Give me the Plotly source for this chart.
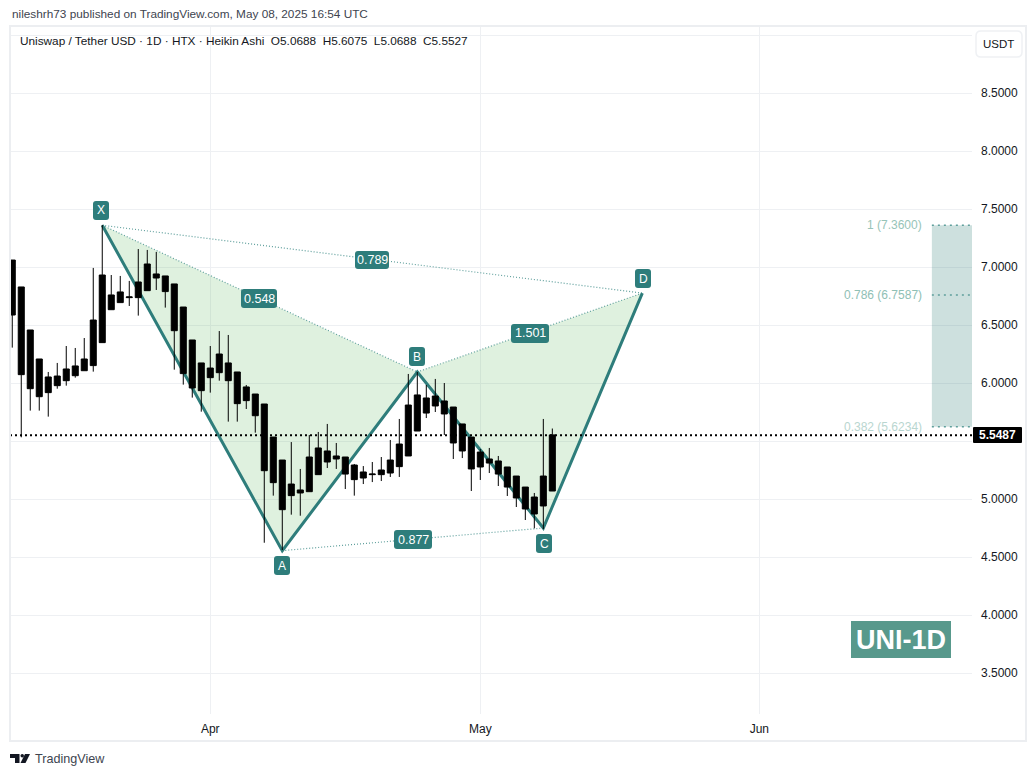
import plotly.graph_objects as go

FONT = "Liberation Sans"
TEAL = "#2e7d7b"
DOT_TEAL = "#5f9f9c"
GRID = "#eef0f3"
INK = "#131722"

W, H = 1036, 777
PLOT_L, PLOT_R, PLOT_T, PLOT_B = 10, 972, 27, 714

# daily Heikin Ashi candles
dates = [
    "2025-03-10", "2025-03-11", "2025-03-12", "2025-03-13", "2025-03-14", "2025-03-15", "2025-03-16",
    "2025-03-17", "2025-03-18", "2025-03-19", "2025-03-20", "2025-03-21", "2025-03-22", "2025-03-23",
    "2025-03-24", "2025-03-25", "2025-03-26", "2025-03-27", "2025-03-28", "2025-03-29", "2025-03-30",
    "2025-03-31", "2025-04-01", "2025-04-02", "2025-04-03", "2025-04-04", "2025-04-05", "2025-04-06",
    "2025-04-07", "2025-04-08", "2025-04-09", "2025-04-10", "2025-04-11", "2025-04-12", "2025-04-13",
    "2025-04-14", "2025-04-15", "2025-04-16", "2025-04-17", "2025-04-18", "2025-04-19", "2025-04-20",
    "2025-04-21", "2025-04-22", "2025-04-23", "2025-04-24", "2025-04-25", "2025-04-26", "2025-04-27",
    "2025-04-28", "2025-04-29", "2025-04-30", "2025-05-01", "2025-05-02", "2025-05-03", "2025-05-04",
    "2025-05-05", "2025-05-06", "2025-05-07", "2025-05-08", "2025-05-09",
]
highs = [
    7.060, 6.828, 6.457, 6.207, 6.095, 6.173, 6.319, 6.302, 6.388, 6.992, 7.362, 6.931, 6.923, 6.880,
    7.155, 7.147, 7.130, 6.923, 6.854, 6.655, 6.371, 6.173, 6.319, 6.448, 6.414, 6.095, 5.983, 5.905,
    5.819, 5.534, 5.336, 5.491, 5.259, 5.552, 5.578, 5.647, 5.483, 5.362, 5.302, 5.284, 5.319, 5.362,
    5.509, 5.690, 6.078, 6.095, 5.983, 6.035, 6.000, 5.793, 5.647, 5.534, 5.431, 5.440, 5.371, 5.276,
    5.198, 5.103, 5.052, 5.690, 5.6075,
]
body_tops = [
    7.060, 6.828, 6.457, 6.207, 6.052, 6.060, 6.121, 6.147, 6.207, 6.543, 6.931, 6.759, 6.785, 6.742,
    6.871, 7.026, 6.940, 6.923, 6.854, 6.655, 6.371, 6.173, 6.129, 6.250, 6.173, 6.095, 5.966, 5.905,
    5.819, 5.534, 5.336, 5.129, 5.078, 5.362, 5.440, 5.414, 5.371, 5.362, 5.293, 5.233, 5.215, 5.250,
    5.336, 5.474, 5.810, 5.897, 5.871, 5.888, 5.845, 5.793, 5.647, 5.534, 5.405, 5.345, 5.328, 5.276,
    5.198, 5.103, 5.017, 5.198, 5.5527,
]
body_bottoms = [
    6.586, 6.072, 5.951, 5.882, 5.917, 5.977, 6.020, 6.063, 6.106, 6.150, 6.348, 6.632, 6.693, 6.736,
    6.736, 6.796, 6.905, 6.788, 6.451, 6.081, 5.957, 5.934, 6.046, 6.089, 6.020, 5.822, 5.848, 5.718,
    5.244, 5.141, 4.908, 5.029, 5.052, 5.063, 5.210, 5.319, 5.345, 5.215, 5.167, 5.181, 5.210, 5.210,
    5.224, 5.279, 5.371, 5.586, 5.741, 5.802, 5.733, 5.483, 5.414, 5.259, 5.276, 5.310, 5.215, 5.103,
    5.009, 4.914, 4.871, 4.940, 5.0688,
]
lows = [
    6.305, 5.532, 5.762, 5.762, 5.710, 5.951, 5.977, 6.046, 6.106, 6.098, 6.348, 6.632, 6.693, 6.664,
    6.581, 6.796, 6.802, 6.650, 6.115, 5.986, 5.874, 5.753, 5.917, 6.020, 5.667, 5.667, 5.776, 5.572,
    4.623, 5.029, 4.560, 4.865, 4.856, 5.063, 5.210, 5.267, 5.259, 5.086, 5.029, 5.129, 5.146, 5.155,
    5.190, 5.190, 5.371, 5.586, 5.698, 5.750, 5.552, 5.345, 5.353, 5.069, 5.164, 5.224, 5.112, 5.026,
    4.931, 4.819, 4.747, 4.741, 5.0688,
]

# harmonic pattern pivots
pivot_names = ["X", "A", "B", "C", "D"]
pivot_dates = ["2025-03-20", "2025-04-09", "2025-04-24", "2025-05-08", "2025-05-19"]
pivot_prices = [7.36, 4.555, 6.095, 4.75, 6.775]

# ratio labels, placed by the picture
ratio_texts = ["0.789", "0.548", "1.501", "0.877"]
ratio_boxes = [(355, 389, 251, 269), (241, 277, 289, 308), (511, 549, 324, 343), (394, 432, 530, 549)]

# fib zone
fib_labels = ["1 (7.3600)", "0.786 (6.7587)", "0.382 (5.6234)"]
fib_levels = [7.36, 6.7587, 5.6234]
fib_colors = ["#97c4b8", "#8fc0b5", "#b9d6d0"]
fib_x = ["2025-06-20 04:00", "2025-06-24 15:00"]

last_price = 5.5487
x_range = ["2025-03-09 18:00", "2025-06-24 15:00"]
y_range = [3.1466, 9.069]

y_ticks = [3.5, 4.0, 4.5, 5.0, 5.5, 6.0, 6.5, 7.0, 7.5, 8.0, 8.5, 9.0]
y_labels = ["3.5000", "4.0000", "4.5000", "5.0000", "", "6.0000", "6.5000", "7.0000", "7.5000", "8.0000", "8.5000", ""]
x_ticks = ["2025-04-01", "2025-05-01", "2025-06-01"]
x_labels = ["Apr", "May", "Jun"]


def px(x):
    return (x - PLOT_L) / (PLOT_R - PLOT_L)


def py(y):
    return (PLOT_B - y) / (PLOT_B - PLOT_T)


def rounded_path(x0, x1, y0, y1, r=3):
    pts = [
        ("M", x0 + r, y0), ("L", x1 - r, y0), ("Q", x1, y0, x1, y0 + r), ("L", x1, y1 - r),
        ("Q", x1, y1, x1 - r, y1), ("L", x0 + r, y1), ("Q", x0, y1, x0, y1 - r), ("L", x0, y0 + r),
        ("Q", x0, y0, x0 + r, y0),
    ]
    out = []
    for p in pts:
        coords = p[1:]
        pairs = [f"{px(coords[i]):.5f},{py(coords[i + 1]):.5f}" for i in range(0, len(coords), 2)]
        out.append(p[0] + " ".join(pairs))
    return " ".join(out) + " Z"


def poly_path(points):
    s = "M" + " L".join(f"{px(x):.5f},{py(y):.5f}" for x, y in points)
    return s + " Z"


def paper_shape(path, fill, line_color=None, line_width=0):
    return dict(
        type="path", path=path, xref="paper", yref="paper", fillcolor=fill, layer="above",
        line=dict(color=line_color or fill, width=line_width),
    )


def label(x, y, text, color="white", size=12, anchor="center", weight=None):
    font = dict(family=FONT, size=size, color=color)
    if weight:
        font["weight"] = weight
    return dict(
        x=px(x), y=py(y), xref="paper", yref="paper", text=text, showarrow=False,
        xanchor=anchor, yanchor="middle", font=font,
    )


fig = go.Figure()

# fills sit on the lower axes so that the candles draw over them
fig.add_trace(go.Scatter(
    x=[fib_x[0], fib_x[1], fib_x[1], fib_x[0]],
    y=[fib_levels[2], fib_levels[2], fib_levels[0], fib_levels[0]],
    fill="toself", fillcolor="rgba(46,125,116,0.24)", mode="none", hoverinfo="skip",
))
for idx in ([0, 1, 2], [2, 3, 4]):
    fig.add_trace(go.Scatter(
        x=[pivot_dates[i] for i in idx], y=[pivot_prices[i] for i in idx],
        fill="toself", fillcolor="rgba(76,175,80,0.18)", mode="none", hoverinfo="skip",
    ))
for a, b in ((0, 2), (0, 4), (1, 3), (2, 4)):
    fig.add_trace(go.Scatter(
        x=[pivot_dates[a], pivot_dates[b]], y=[pivot_prices[a], pivot_prices[b]], mode="lines",
        line=dict(color=DOT_TEAL, width=1.2, dash="1px,2px"), hoverinfo="skip",
    ))
fig.add_trace(go.Scatter(
    x=pivot_dates, y=pivot_prices, mode="lines",
    line=dict(color=TEAL, width=3), hoverinfo="skip",
))
for level in fib_levels:
    fig.add_trace(go.Scatter(
        x=fib_x, y=[level, level], mode="lines",
        line=dict(color=DOT_TEAL, width=1.5, dash="2px,4px"), hoverinfo="skip",
    ))

fig.add_trace(go.Candlestick(
    x=dates, open=body_bottoms, high=highs, low=lows, close=body_tops,
    increasing=dict(line=dict(color="#000000", width=1), fillcolor="#000000"),
    decreasing=dict(line=dict(color="#000000", width=1), fillcolor="#000000"),
    whiskerwidth=0, xaxis="x2", yaxis="y2",
))
fig.add_trace(go.Scatter(
    x=x_range, y=[last_price, last_price], mode="lines", xaxis="x2", yaxis="y2",
    line=dict(color="#000000", width=2, dash="2px,3px"), hoverinfo="skip",
))

shapes = [
    # panel frame
    dict(type="rect", xref="paper", yref="paper", x0=px(10), x1=px(1026), y0=py(741), y1=py(26),
         line=dict(color="#eceef1", width=2), fillcolor="rgba(0,0,0,0)", layer="above"),
    # currency button
    paper_shape(rounded_path(976, 1022, 31, 57, 5), "#ffffff", "#eff1f4", 1.5),
    # last price tag
    paper_shape(rounded_path(973, 1022, 427, 443, 1), "#000000"),
    # UNI-1D block
    paper_shape(rounded_path(851, 951, 621, 658, 0.1), "#58998c"),
    # logo
    paper_shape(poly_path([(10, 754), (19.5, 754), (19.5, 763), (15, 763), (15, 758), (10, 758)]), "#131722"),
    paper_shape(poly_path([(25, 754), (30, 754), (25.5, 763), (20.5, 763)]), "#131722"),
    paper_shape(rounded_path(20.5, 24, 754, 757.5, 1.7), "#131722"),
]
annotations = [
    label(10, 14, "nileshrh73 published on TradingView.com, May 08, 2025 16:54 UTC", "#40444f", 11.8, "left"),
    label(18, 41, "Uniswap / Tether USD · 1D · HTX · Heikin Ashi&nbsp;&nbsp;O5.0688&nbsp;&nbsp;H5.6075&nbsp;&nbsp;L5.0688&nbsp;&nbsp;C5.5527",
          INK, 11.8, "left"),
    label(999, 44, "USDT", INK, 11.5),
    label(997.5, 435, f"{last_price:.4f}", "#ffffff", 12, weight=700),
    label(901, 639.5, "UNI-1D", "#ffffff", 27, weight=700),
    label(33, 759, "TradingView", "#40444f", 12.6, "left"),
]

# pivot badges
badge_boxes = [(93, 109, 201, 220), (274, 290, 556, 575), (409, 425, 347, 366), (536, 552, 534, 553), (635, 651, 269, 288)]
for name, box in zip(pivot_names, badge_boxes):
    shapes.append(paper_shape(rounded_path(box[0], box[1], box[2], box[3]), TEAL))
    annotations.append(label((box[0] + box[1]) / 2, (box[2] + box[3]) / 2, name, "#ffffff", 12))
for text, box in zip(ratio_texts, ratio_boxes):
    shapes.append(paper_shape(rounded_path(box[0], box[1], box[2], box[3]), TEAL))
    annotations.append(label((box[0] + box[1]) / 2, (box[2] + box[3]) / 2, text, "#ffffff", 12.5))
for text, level, color in zip(fib_labels, fib_levels, fib_colors):
    annotations.append(dict(
        x=fib_x[0], y=level, xref="x", yref="y", text=text, showarrow=False, xanchor="right",
        yanchor="middle", xshift=-8, font=dict(family=FONT, size=12, color=color),
    ))

fig.update_layout(
    width=W, height=H,
    margin=dict(l=PLOT_L, r=W - PLOT_R, t=PLOT_T, b=H - PLOT_B, pad=0),
    paper_bgcolor="#ffffff", plot_bgcolor="#ffffff",
    showlegend=False, boxgap=0.33, boxgroupgap=0,
    shapes=shapes, annotations=annotations,
    xaxis=dict(
        type="date", range=x_range, tickvals=x_ticks, ticktext=x_labels, showgrid=True, gridcolor=GRID,
        gridwidth=1, zeroline=False, showline=False, ticks="", rangeslider=dict(visible=False),
        tickfont=dict(family=FONT, size=12, color=INK), ticklabelstandoff=6,
    ),
    yaxis=dict(
        range=y_range, side="right", tickvals=y_ticks, ticktext=y_labels, showgrid=True, gridcolor=GRID,
        gridwidth=1, zeroline=False, showline=False, ticks="",
        tickfont=dict(family=FONT, size=12, color=INK), ticklabelstandoff=8,
    ),
    xaxis2=dict(type="date", range=x_range, overlaying="x", visible=False, rangeslider=dict(visible=False)),
    yaxis2=dict(range=y_range, overlaying="y", side="right", visible=False),
)

fig.write_html("out.html", config=dict(displayModeBar=False), post_script="document.body.style.margin='0';")
